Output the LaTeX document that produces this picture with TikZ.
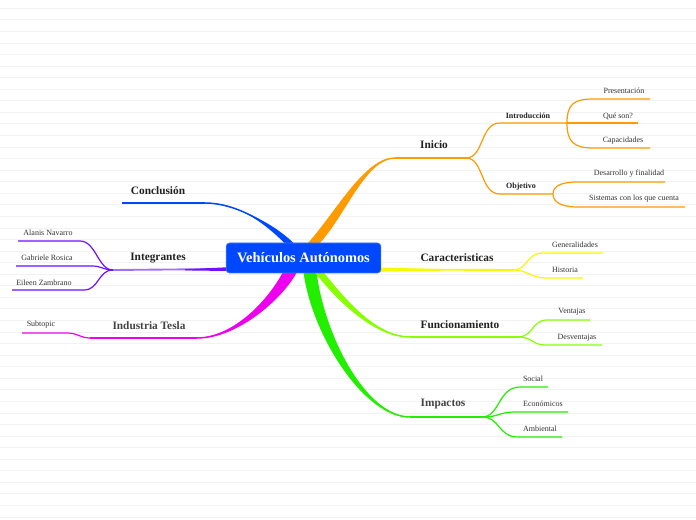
\documentclass[tikz,border=0pt]{standalone}
\usepackage{fontspec}
\setmainfont{Liberation Serif}
\usetikzlibrary{calc}
\definecolor{cblue}{HTML}{0048FF}
\definecolor{cpurple}{HTML}{6F10FF}
\definecolor{cpurplel}{HTML}{A070FF}
\definecolor{cmag}{HTML}{EE00EE}
\definecolor{corange}{HTML}{FF9A00}
\definecolor{cyellow}{HTML}{F8F800}
\definecolor{clime}{HTML}{88FF00}
\definecolor{cgreen}{HTML}{22EE00}
\definecolor{bgline}{HTML}{F2F2F2}
\definecolor{ctext}{HTML}{222222}
\definecolor{cgraytext}{HTML}{444444}
% #1 colour, #2 base, #3 half-width offset at base, #4 first control, #5 second control, #6 end, #7 offset at second control
\newcommand{\mybranch}[7]{%
  \fill[#1] ($(#2)+(#3)$) .. controls ($(#4)+(#3)$) and ($(#5)+(#7)$) .. (#6)
     .. controls ($(#5)-(#7)$) and ($(#4)-(#3)$) .. ($(#2)-(#3)$) -- cycle;
  \draw[#1, line width=1.1pt] (#2) .. controls (#4) and (#5) .. (#6);}
\tikzset{
  maintopic/.style={font=\fontsize{8.5}{10}\selectfont\bfseries, text=ctext, inner sep=0pt, yshift=-0.7pt},
  subtopic/.style={font=\fontsize{6}{7}\selectfont\bfseries, text=ctext, inner sep=0pt, yshift=-0.6pt},
  leaf/.style={font=\fontsize{6}{7}\selectfont, text=black!80, inner sep=0pt, yshift=-0.6pt},
  topline/.style={line width=1.5pt},
  subline/.style={line width=0.9pt},
}
\begin{document}
\begin{tikzpicture}[x=0.75pt,y=-0.75pt]
\useasboundingbox (0,0) rectangle (696,520);
\fill[white] (0,0) rectangle (696,520);
\foreach \k in {0,...,44} \draw[bgline, line width=0.6pt] (0,8.3+11.56*\k) -- (696,8.3+11.56*\k);

% ---------- coordinates for main branches ----------
\coordinate (cB) at (290,244);  \coordinate (cC1) at (268,222); \coordinate (cC2) at (235,203); \coordinate (cE) at (205,203);
\coordinate (iB) at (313,244);  \coordinate (iC1) at (340,215); \coordinate (iC2) at (365,158); \coordinate (iE) at (395,158);
\coordinate (mB) at (290,272);  \coordinate (mC1) at (275,300); \coordinate (mC2) at (235,338); \coordinate (mE) at (197,338);
\coordinate (fB) at (319,272);  \coordinate (fC1) at (348,309); \coordinate (fC2) at (380,337); \coordinate (fE) at (410,337);
\coordinate (pB) at (310,272);  \coordinate (pC1) at (318,335); \coordinate (pC2) at (365,417); \coordinate (pE) at (410,417);

% main tapered branches
\mybranch{cblue}{cB}{4.5,0}{cC1}{cC2}{cE}{0,1.5}
\mybranch{corange}{iB}{6,0}{iC1}{iC2}{iE}{0,2}
\mybranch{cmag}{mB}{7,0}{mC1}{mC2}{mE}{0,2}
\mybranch{cgreen}{pB}{6.5,0}{pC1}{pC2}{pE}{0,-2}
\mybranch{clime}{fB}{4.5,0}{fC1}{fC2}{fE}{0,-1.5}

% horizontal main branches (yellow, purple)
\coordinate (yB) at (380,269.5); \coordinate (yE) at (513,270);
\coordinate (gB) at (227,269); \coordinate (gE) at (113,270);
\draw[cyellow, line width=1.4pt] (yB) -- (yE);
\fill[cyellow] (380,267.5) -- (440,269.2) -- (440,270.8) -- (380,271.8) -- cycle;
\draw[cpurplel, line width=1.4pt] (gE) -- (gB);
\fill[cpurple] (227,267.3) -- (185,269.2) -- (185,270.4) -- (227,271) -- cycle;

% ---------- Conclusión ----------
\coordinate (cL) at (122,203);
\draw[cblue, topline] (cE) -- (cL);
\node[maintopic] (conc) at (158,190) {Conclusión};

% ---------- Integrantes ----------
\node[maintopic] (integ) at (158,257) {Integrantes};
\coordinate (a1) at (80,241); \coordinate (a0) at (18,241);
\coordinate (g1) at (92,266); \coordinate (g0) at (16,266);
\coordinate (e1) at (84,290); \coordinate (e0) at (12,290);
\draw[cpurple, subline] (gE) .. controls (98,270) and (96,241) .. (a1) -- (a0);
\draw[cpurple, subline] (gE) .. controls (103,270) and (102,266) .. (g1) -- (g0);
\draw[cpurple, subline] (gE) .. controls (98,270) and (99,290) .. (e1) -- (e0);
\node[leaf] (alanis) at (48,232) {Alanis Navarro};
\node[leaf] (gabriele) at (47,257) {Gabriele Rosica};
\node[leaf] (eileen) at (44,282) {Eileen Zambrano};

% ---------- Industria Tesla ----------
\coordinate (mJ) at (90,338);
\coordinate (s1) at (67,333); \coordinate (s0) at (22,333);
\draw[cmag, topline] (mE) -- (mJ);
\draw[cmag, subline] (mJ) .. controls (80,338) and (78,333) .. (s1) -- (s0);
\node[maintopic, text=cgraytext] (tesla) at (149,325) {Industria Tesla};
\node[leaf] (subt) at (41,324) {Subtopic};

% ---------- center ----------
\node[fill=cblue, draw=cblue!75!white, line width=0.5pt, rounded corners=2.5pt,
      minimum width=116pt, minimum height=22.5pt, inner sep=0pt, text=white,
      font=\fontsize{10.8}{12}\selectfont\bfseries] (center) at (303.5,258) {Vehículos Autónomos};

% ---------- Inicio ----------
\coordinate (iS) at (466,158);
\draw[corange, topline] (iE) -- (iS);
\node[maintopic] (inicio) at (434,144) {Inicio};
\coordinate (intA) at (500,123); \coordinate (intB) at (567,123);
\coordinate (objA) at (500,194); \coordinate (objB) at (553,194);
\draw[corange, subline] (iS) .. controls (484,158) and (480,123) .. (intA) -- (intB);
\draw[corange, subline] (iS) .. controls (484,158) and (480,194) .. (objA) -- (objB);
\node[subtopic] (intro) at (528,115) {Introducción};
\node[subtopic] (obj) at (521,186) {Objetivo};
\coordinate (pr1) at (593,99); \coordinate (pr0) at (650,99);
\coordinate (qs0) at (638,123);
\coordinate (ca1) at (593,148); \coordinate (ca0) at (650,148);
\draw[corange, subline] (intB) .. controls (567,104) and (574,99) .. (pr1) -- (pr0);
\draw[corange, subline] (intB) -- (qs0);
\draw[corange, subline] (intB) .. controls (567,142) and (574,148) .. (ca1) -- (ca0);
\node[leaf] (pres) at (624,90) {Presentación};
\node[leaf] (ques) at (618,116) {Qué son?};
\node[leaf] (capa) at (623,140) {Capacidades};
\coordinate (de1) at (578,182); \coordinate (de0) at (665,182);
\coordinate (si1) at (578,207); \coordinate (si0) at (685,207);
\draw[corange, subline] (objB) .. controls (553,186) and (561,182) .. (de1) -- (de0);
\draw[corange, subline] (objB) .. controls (553,202) and (561,207) .. (si1) -- (si0);
\node[leaf] (desa) at (629,173) {Desarrollo y finalidad};
\node[leaf] (sist) at (634,198) {Sistemas con los que cuenta};

% ---------- Caracteristicas ----------
\node[maintopic] (carac) at (457,257) {Caracteristicas};
\coordinate (ge1) at (543,253); \coordinate (ge0) at (603,253);
\coordinate (hi1) at (547,278); \coordinate (hi0) at (583,278);
\draw[cyellow, subline] (yE) .. controls (528,270) and (526,253) .. (ge1) -- (ge0);
\draw[cyellow, subline] (yE) .. controls (528,270) and (530,278) .. (hi1) -- (hi0);
\node[leaf] (gene) at (575,244) {Generalidades};
\node[leaf] (hist) at (565,269) {Historia};

% ---------- Funcionamiento ----------
\coordinate (fS) at (518,337);
\draw[clime, topline] (fE) -- (fS);
\node[maintopic] (func) at (460,324) {Funcionamiento};
\coordinate (ve1) at (547,320); \coordinate (ve0) at (590,320);
\coordinate (dv1) at (545,345); \coordinate (dv0) at (602,345);
\draw[clime, subline] (fS) .. controls (533,337) and (532,320) .. (ve1) -- (ve0);
\draw[clime, subline] (fS) .. controls (533,337) and (532,345) .. (dv1) -- (dv0);
\node[leaf] (vent) at (572,311) {Ventajas};
\node[leaf] (desv) at (577,337) {Desventajas};

% ---------- Impactos ----------
\coordinate (pS) at (482,417);
\draw[cgreen, topline] (pE) -- (pS);
\node[maintopic, text=cgraytext] (impa) at (443,403) {Impactos};
\coordinate (so1) at (520,387); \coordinate (so0) at (548,387);
\coordinate (ec1) at (516,412); \coordinate (ec0) at (568,412);
\coordinate (am1) at (518,437); \coordinate (am0) at (562,437);
\draw[cgreen, subline] (pS) .. controls (500,417) and (498,387) .. (so1) -- (so0);
\draw[cgreen, subline] (pS) .. controls (500,417) and (498,412) .. (ec1) -- (ec0);
\draw[cgreen, subline] (pS) .. controls (500,417) and (498,437) .. (am1) -- (am0);
\node[leaf] (soc) at (533,378) {Social};
\node[leaf] (eco) at (543,403) {Económicos};
\node[leaf] (amb) at (540,428) {Ambiental};
\end{tikzpicture}
\end{document}
